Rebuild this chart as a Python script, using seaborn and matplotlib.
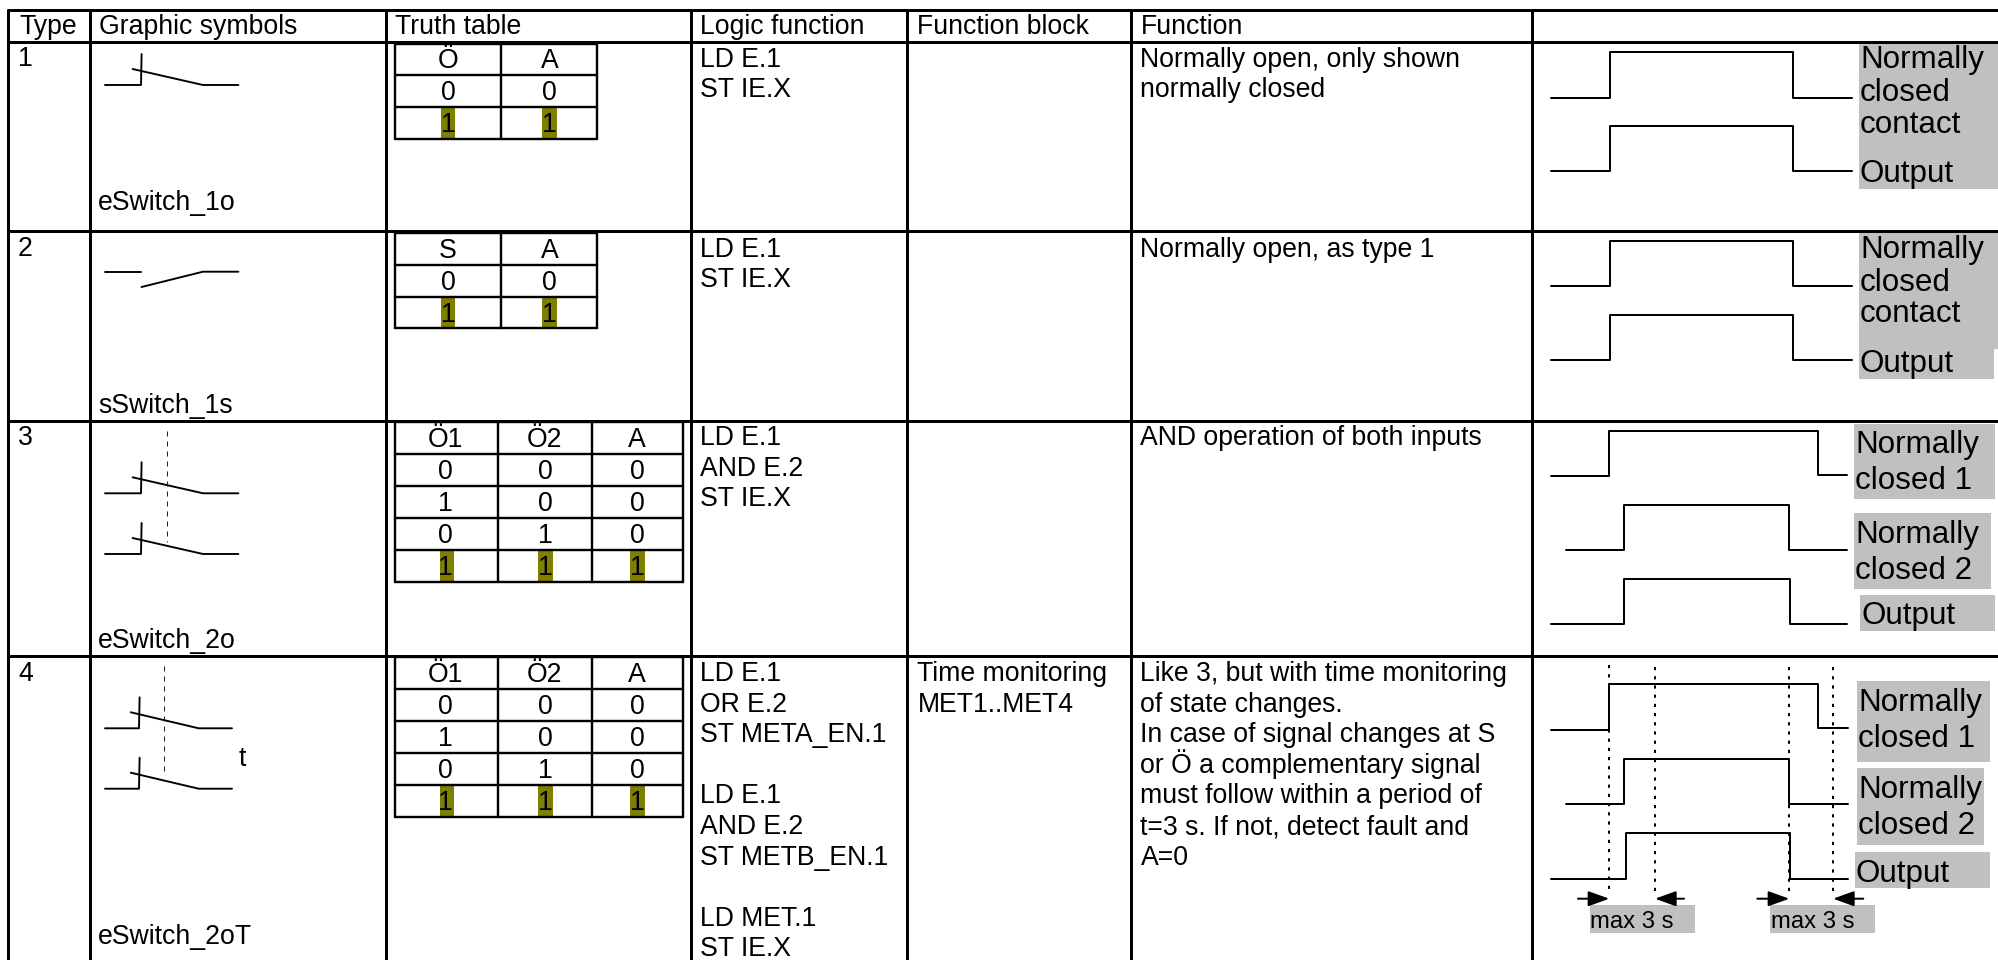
import pandas as pd
import matplotlib
matplotlib.use("Agg")
import matplotlib.pyplot as plt
from matplotlib.patches import Rectangle
import seaborn as sns

# table text
headers = ["Type", "Graphic symbols", "Truth table", "Logic function", "Function block", "Function"]
types = ["1", "2", "3", "4"]
symbol_names = ["eSwitch_1o", "sSwitch_1s", "eSwitch_2o", "eSwitch_2oT"]
truth_tables = [
    [["Ö", "A"], ["0", "0"], ["1", "1"]],
    [["S", "A"], ["0", "0"], ["1", "1"]],
    [["Ö1", "Ö2", "A"], ["0", "0", "0"], ["1", "0", "0"], ["0", "1", "0"], ["1", "1", "1"]],
    [["Ö1", "Ö2", "A"], ["0", "0", "0"], ["1", "0", "0"], ["0", "1", "0"], ["1", "1", "1"]],
]
logic_text = [
    ["LD E.1", "ST IE.X"],
    ["LD E.1", "ST IE.X"],
    ["LD E.1", "AND E.2", "ST IE.X"],
    ["LD E.1", "OR E.2", "ST META_EN.1", "", "LD E.1", "AND E.2", "ST METB_EN.1", "", "LD MET.1", "ST IE.X"],
]
block_text = [[], [], [], ["Time monitoring", "MET1..MET4"]]
function_text = [
    ["Normally open, only shown", "normally closed"],
    ["Normally open, as type 1"],
    ["AND operation of both inputs"],
    ["Like 3, but with time monitoring", "of state changes.", "In case of signal changes at S",
     "or Ö a complementary signal", "must follow within a period of", "t=3 s. If not, detect fault and", "A=0"],
]

# signal edges of the timing diagrams (10 traces over 4 rows)
wave_start = [1551, 1551, 1551, 1551, 1551, 1566, 1551, 1551, 1566, 1551]
wave_rise = [1610, 1610, 1610, 1610, 1609, 1624, 1624, 1609, 1624, 1626]
wave_fall = [1793, 1793, 1793, 1793, 1818, 1789, 1790, 1818, 1789, 1790]
wave_end = [1852, 1852, 1852, 1852, 1847, 1847, 1847, 1848, 1848, 1848]
wave_low = [97.5, 170.5, 286, 360, 476, 549.5, 623.5, 729.5, 804, 879]
wave_high = [51.5, 125.5, 241, 314.5, 430.5, 504.5, 578.5, 683.5, 758.5, 833]
wave_low_end = [97.5, 170.5, 286, 360, 474.5, 549.5, 623.5, 727.5, 804, 879]

# grid of the table
col_x = [8, 90, 386, 691, 907, 1131, 1532]
row_y = [10, 42, 230.5, 420.5, 656]

fig, ax = plt.subplots(figsize=(19.99, 9.6), dpi=100)
sns.set_theme(style="white")
plt.rcParams["font.family"] = ["Liberation Sans", "DejaVu Sans"]
fig.subplots_adjust(0, 0, 1, 1)
PX = 0.72
BODY = 19.2


def poly(xs, ys, lw=2.0, color="black", **kw):
    d = pd.DataFrame({"x": xs, "y": ys})
    sns.lineplot(data=d, x="x", y="y", estimator=None, sort=False, color=color,
                 linewidth=lw * PX, ax=ax, **kw)


def label(x, y, s, size=BODY, ha="left"):
    ax.text(x, y, s, fontsize=size, ha=ha, va="baseline", color="black",
            family=["Liberation Sans", "DejaVu Sans"], zorder=5)


def grey(x0, y0, x1, y1):
    ax.add_patch(Rectangle((x0, y0), x1 - x0, y1 - y0, color="#c0c0c0", lw=0, zorder=0))


# table grid
for y in row_y:
    poly([col_x[0], 1999], [y, y], lw=3)
for x in col_x:
    poly([x, x], [row_y[0], 960], lw=3)

# headers
header_x = [19, 99, 395, 700.5, 917.5, 1140.5]
for x, s in zip(header_x, headers):
    label(x, 34.5, s)

# type numbers and symbol names
type_base = [66.5, 256, 445, 681]
name_base = [210, 413, 648, 944]
for i in range(4):
    label(18, type_base[i], types[i])
    label(98, name_base[i], symbol_names[i])

# logic, block and function columns
first_base = [66.7, 256.7, 445, 681]
line_step = 30.6
for i in range(4):
    for k, s in enumerate(logic_text[i]):
        label(700.5, first_base[i] + k * line_step, s)
    for k, s in enumerate(block_text[i]):
        label(917.5, first_base[i] + k * line_step, s)
    for k, s in enumerate(function_text[i]):
        label(1140.5, first_base[i] + k * line_step, s)

# truth tables
tt_top = [43.5, 232.7, 422.3, 657.3]
tt_cols = [[395.5, 501, 597], [395.5, 501, 597], [395.5, 498, 592, 683], [395.5, 498, 592, 683]]
tt_centers = [[448, 549.5], [448, 549.5], [445.5, 545, 637], [445.5, 545, 637]]
tt_mark = [[448, 549.5], [448, 549.5], [447, 545.7, 637.5], [447, 545.7, 637.5]]
tt_step = 31.9
for i, table in enumerate(truth_tables):
    n = len(table)
    top = tt_top[i]
    for r in range(n + 1):
        poly([tt_cols[i][0], tt_cols[i][-1]], [top + r * tt_step] * 2, lw=2.4)
    for x in tt_cols[i]:
        poly([x, x], [top, top + n * tt_step], lw=2.4)
    for c in tt_mark[i]:
        ax.add_patch(Rectangle((c - 7.3, top + (n - 1) * tt_step + 1), 14.6, tt_step - 2,
                               color="#808000", lw=0, zorder=1))
    for r, row in enumerate(table):
        for c, s in zip(tt_centers[i], row):
            label(c, top + r * tt_step + 25, s, ha="center")


# switch symbols
def nc_switch(base, left, knee, blade0, blade1, right):
    poly([left, knee, knee + 0.6], [base, base, base - 31], lw=1.9)
    poly([blade0, blade1, right], [base - 16, base, base], lw=1.9)


nc_switch(85, 105, 141, 132.6, 203, 238.4)
poly([105, 140.6], [271.7, 271.7], lw=1.9)
poly([141.5, 203, 238.4], [287, 271.7, 271.7], lw=1.9)
nc_switch(493.3, 105, 141, 132.6, 203, 238.4)
nc_switch(554, 105, 141, 132.6, 203, 238.4)
nc_switch(728.3, 105, 139, 130.8, 198.7, 232)
nc_switch(788.7, 105, 139, 130.8, 198.7, 232)
poly([167.4, 167.4], [430.7, 541.7], lw=1.0, color="#222222", linestyle=(0, (5, 5)))
poly([163.8, 163.8], [665.7, 776], lw=1.0, color="#222222", linestyle=(0, (5, 5)))
label(239, 766, "t")

# timing traces
for i in range(len(wave_start)):
    poly([wave_start[i], wave_rise[i], wave_rise[i], wave_fall[i], wave_fall[i], wave_end[i]],
         [wave_low[i], wave_low[i], wave_high[i], wave_high[i], wave_low_end[i], wave_low_end[i]], lw=2.0)

# grey legends beside the traces
grey(1859, 42.7, 1999, 188.7)
grey(1859, 232.7, 1999, 349)
grey(1859, 349, 1994, 378.7)
grey(1854, 424, 1995, 499.3)
grey(1854, 513, 1991, 588.7)
grey(1860, 595, 1995, 630.7)
grey(1857, 681, 1990, 761.7)
grey(1857, 768, 1984, 845)
grey(1855, 852, 1990, 888)
grey(1590, 905, 1695, 933)
grey(1770, 905, 1875, 933)

legend_size = 22.6
for x, y, s in [
    (1860, 68.3, "Normally"), (1860, 101, "closed"), (1860, 133, "contact"), (1860, 182.3, "Output"),
    (1860, 258, "Normally"), (1860, 291, "closed"), (1860, 322, "contact"), (1860, 371.7, "Output"),
    (1855, 452.7, "Normally"), (1855, 489, "closed 1"), (1855, 542.7, "Normally"), (1855, 579, "closed 2"),
    (1861.5, 624, "Output"),
    (1858, 710.7, "Normally"), (1858, 747.3, "closed 1"), (1858, 798.3, "Normally"), (1858, 834, "closed 2"),
    (1856, 882.3, "Output"),
]:
    label(x, y, s, size=legend_size)
label(1590, 927.7, "max 3 s", size=17.2)
label(1771, 927.7, "max 3 s", size=17.2)

# monitoring window markers
for x, y0 in zip([1609.3, 1655, 1789.3, 1833], [665, 667, 667, 667]):
    poly([x, x], [y0, 892], lw=2.0, linestyle=(0, (1.6, 3.0)))
for x0, x1 in [(1578, 1609.3), (1684, 1655), (1757.3, 1789.3), (1863.3, 1833)]:
    ax.annotate("", xy=(x1, 898.7), xytext=(x0, 898.7), zorder=4,
                arrowprops=dict(arrowstyle="-|>,head_length=0.75,head_width=0.27", mutation_scale=17,
                                color="black", lw=2.0 * PX, shrinkA=0, shrinkB=0))

ax.set_xlim(0, 1999)
ax.set_ylim(960, 0)
ax.set_axis_off()
fig.savefig("out.png", dpi=100, facecolor="white")
